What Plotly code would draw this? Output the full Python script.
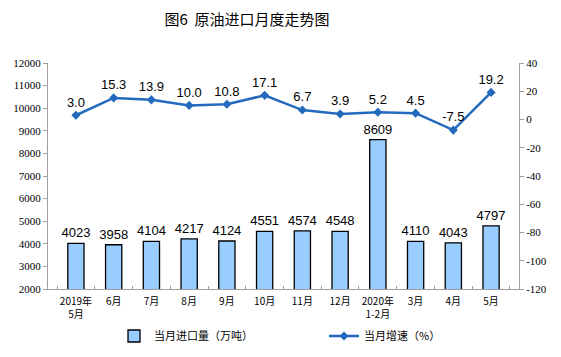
import plotly.graph_objects as go

categories = ["2019年<br>5月", "6月", "7月", "8月", "9月", "10月", "11月", "12月",
              "2020年<br>1-2月", "3月", "4月", "5月"]
imports = [4023, 3958, 4104, 4217, 4124, 4551, 4574, 4548, 8609, 4110, 4043, 4797]
growth = [3.0, 15.3, 13.9, 10.0, 10.8, 17.1, 6.7, 3.9, 5.2, 4.5, -7.5, 19.2]
right_ticks = [40, 20, 0, -20, -40, -60, -80, -100, -120]

line_color = "rgb(35,106,190)"

W, H = 545, 341

fig = go.Figure()
fig.add_trace(go.Bar(
    x=categories, y=imports, name="当月进口量（万吨）",
    marker=dict(color="#99CCFF", line=dict(color="black", width=1.3)),
    width=0.43,
    text=[str(v) for v in imports], textposition="outside",
    textfont=dict(family="Liberation Sans, Arial", size=13, color="black"),
    constraintext="none",
    cliponaxis=False,
))
fig.add_trace(go.Scatter(
    x=categories, y=growth, name="当月增速（%）", yaxis="y2",
    mode="lines+markers+text",
    line=dict(color=line_color, width=2.5),
    marker=dict(symbol="diamond", size=7, color=line_color),
    text=[f"{v:.1f}" for v in growth], textposition="top center",
    textfont=dict(family="Liberation Sans, Arial", size=13, color="black"),
    cliponaxis=False,
))

fig.update_layout(
    width=W, height=H,
    margin=dict(l=40, r=34, t=55, b=60, autoexpand=False),
    paper_bgcolor="white", plot_bgcolor="white",
    title=dict(text="图6  原油进口月度走势图", x=239/W, xanchor="center",
               y=1-12/H, yanchor="middle",
               font=dict(family="Noto Sans CJK SC", size=15, color="black")),
    showlegend=True,
    legend=dict(orientation="h", x=(106-40)/471, xanchor="left",
                yref="container", y=(H-328)/H, yanchor="middle",
                font=dict(family="Noto Sans CJK SC", size=11, color="black"),
                entrywidth=165, entrywidthmode="pixels"),
    bargap=0.57,
    xaxis=dict(showline=True, linecolor="#A0A0A0", linewidth=1,
               ticks="inside", ticklen=3, tickcolor="#A0A0A0", tickson="boundaries",
               tickangle=0, ticklabelstandoff=3,
               tickfont=dict(family="Noto Sans CJK SC", size=10, color="black"),
               showgrid=False),
    yaxis=dict(range=[2000, 12000], dtick=1000, tickformat="d", showgrid=False, zeroline=False,
               showline=True, linecolor="#A0A0A0", ticks="outside", ticklen=4,
               tickcolor="#A0A0A0",
               tickfont=dict(family="Liberation Serif, Times New Roman", size=11, color="black")),
    yaxis2=dict(range=[-120, 40], tickvals=right_ticks, ticktext=[str(v) for v in right_ticks],
                overlaying="y", side="right",
                showgrid=False, zeroline=False,
                showline=True, linecolor="#A0A0A0", ticks="outside", ticklen=4,
                tickcolor="#A0A0A0",
                tickfont=dict(family="Liberation Serif, Times New Roman", size=11, color="black")),
)

fig.write_html("out.html")
